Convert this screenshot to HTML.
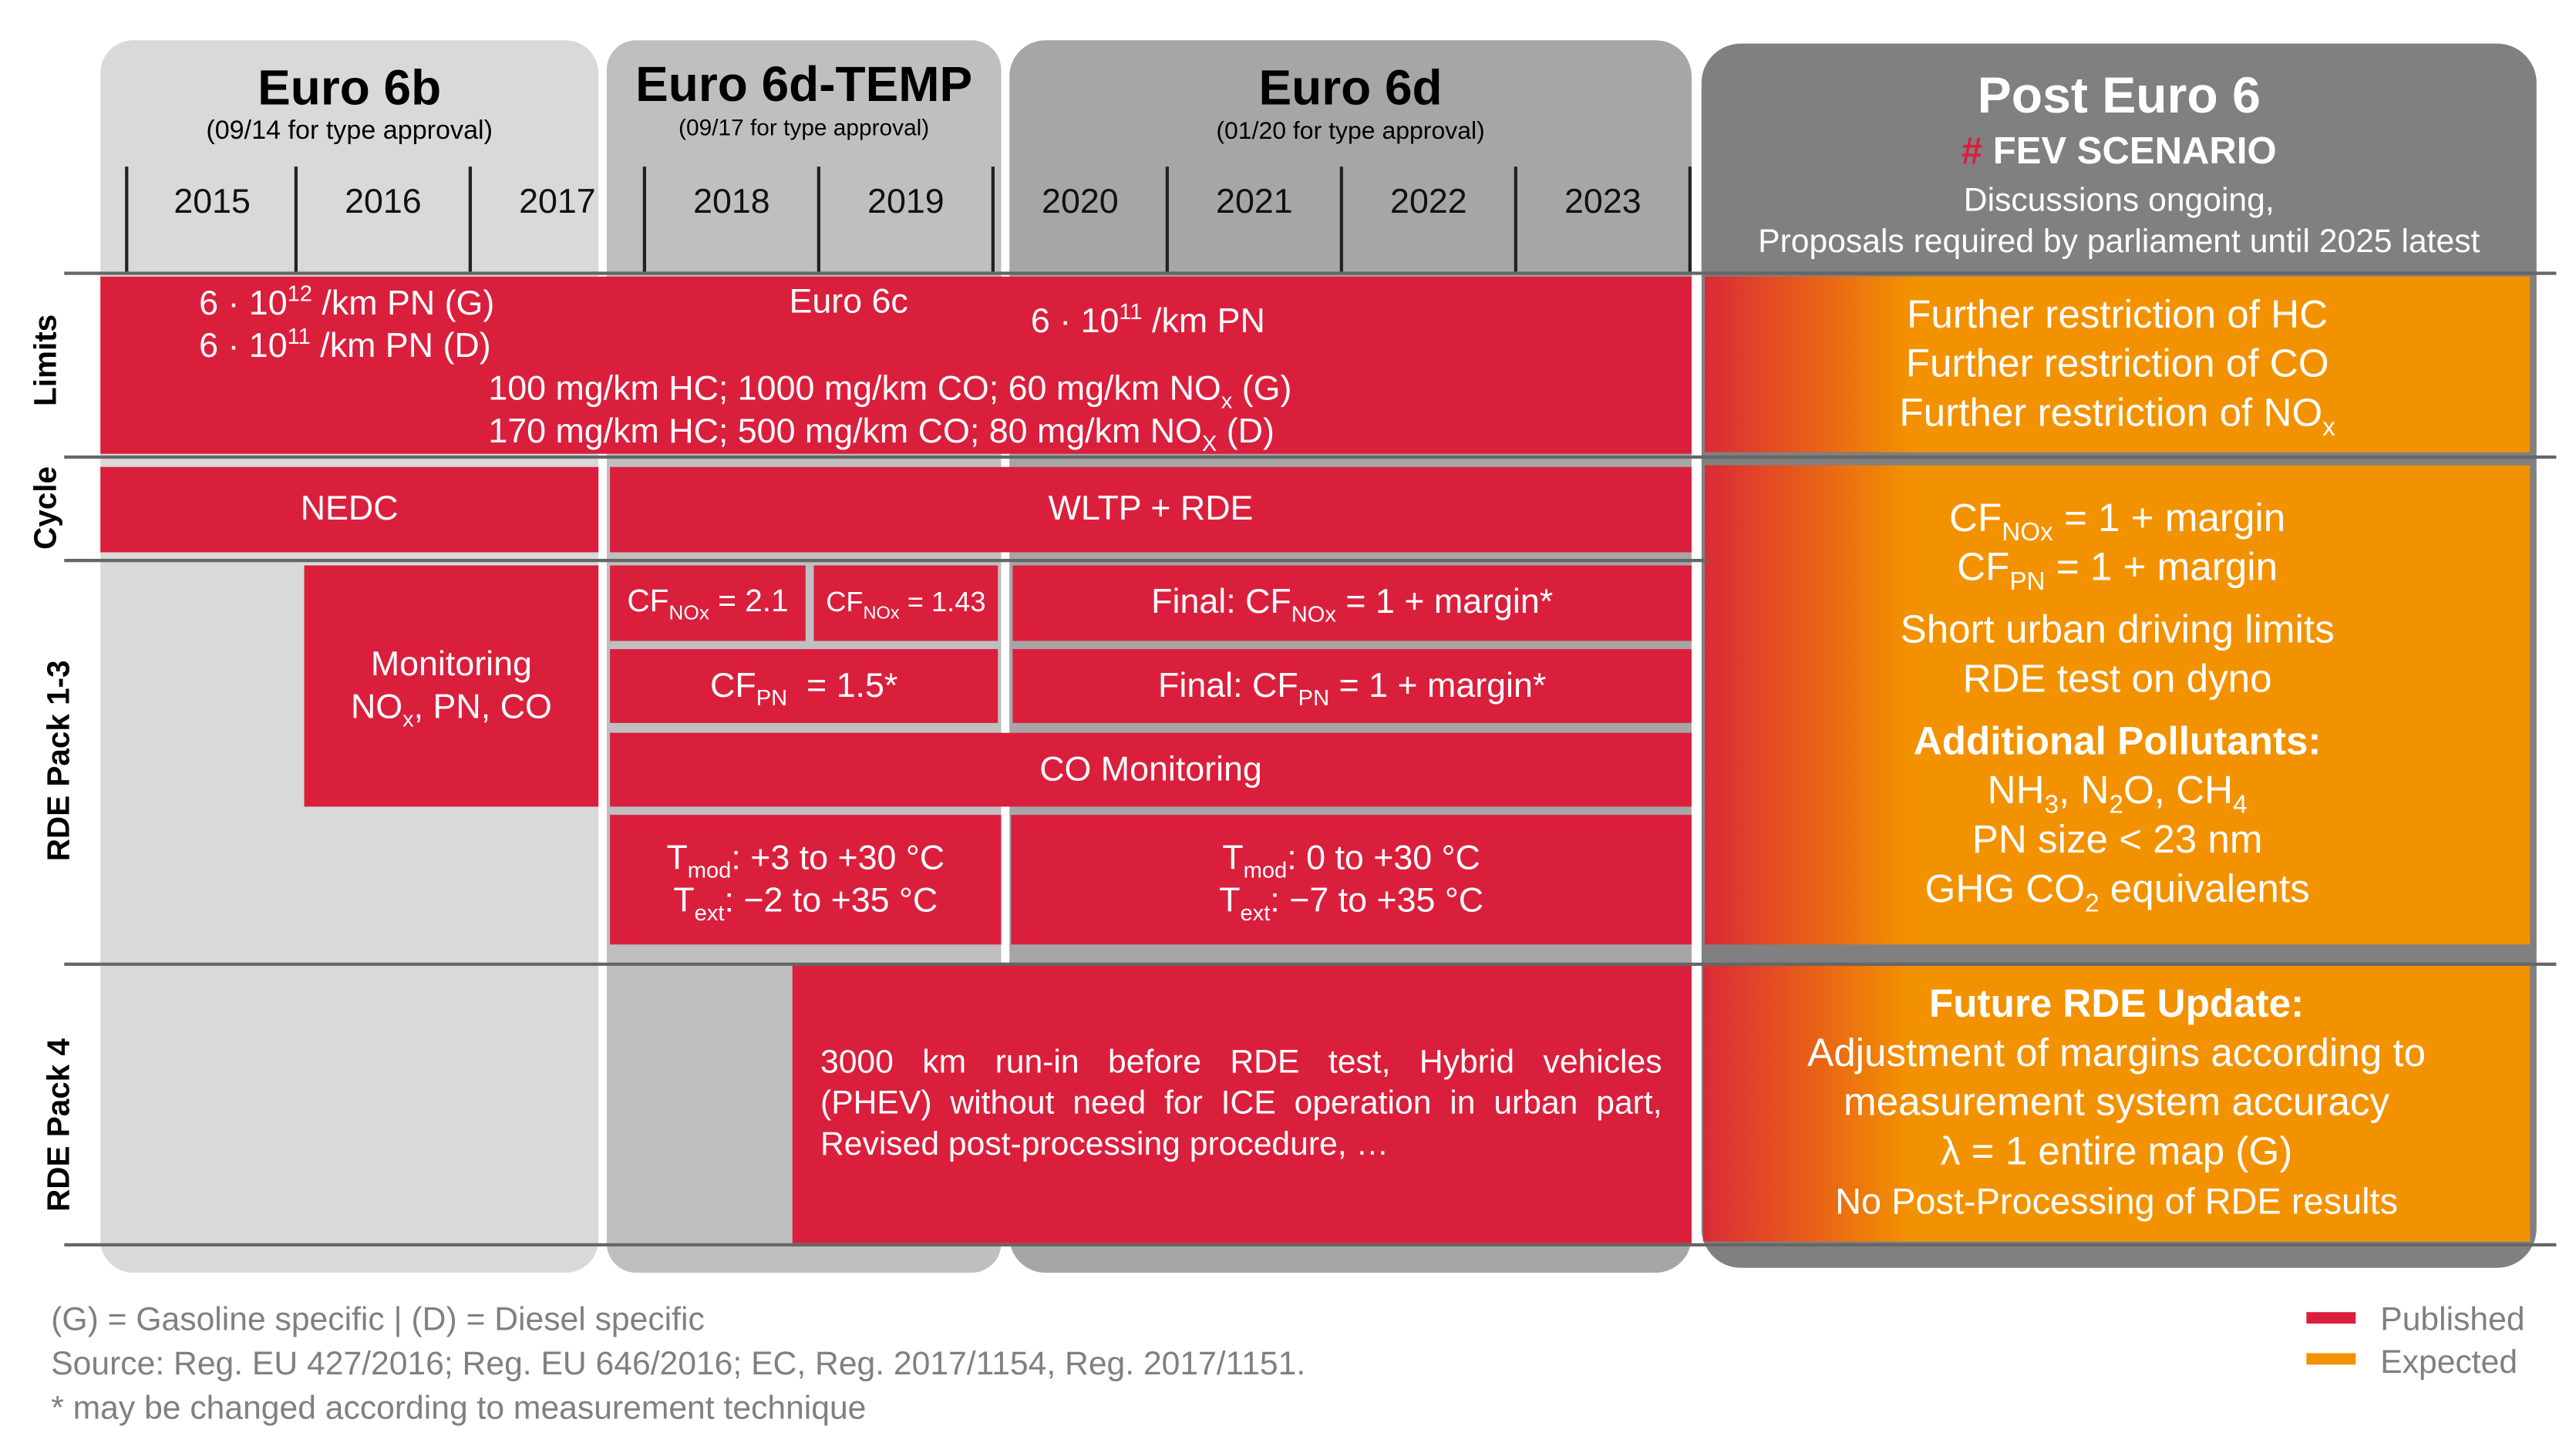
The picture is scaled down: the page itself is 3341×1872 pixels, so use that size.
<!DOCTYPE html>
<html><head><meta charset="utf-8"><style>
html,body{margin:0;padding:0;background:#fff;width:3341px;height:1872px;overflow:hidden}
#w{position:absolute;left:0;top:0;width:1560px;height:874px;transform:translate(-2px,-1px) scale(2.132,2.129);transform-origin:0 0;font-family:"Liberation Sans Narrow","Liberation Sans",sans-serif}
.a{position:absolute}
.c{position:absolute;display:flex;align-items:center;justify-content:center;text-align:center;color:#fff}
.r{background:#da1f3d}
.o{background:linear-gradient(90deg,#da2a38 0%,#e5531f 10%,#f39200 25%,#f39200 100%)}
.hl{position:absolute;height:1.5px;background:#666}
.tick{position:absolute;top:102px;width:2px;height:64px;background:#222}
.yr{position:absolute;top:112px;width:106px;text-align:center;font-size:21px;color:#111}
.rot{position:absolute;transform:rotate(-90deg);transform-origin:center;font-family:"Liberation Sans",sans-serif;font-weight:bold;font-size:19px;color:#000;white-space:nowrap;text-align:center;width:200px}
sub,sup{font-size:65%;line-height:0}
.f{font-size:21px;line-height:26px}
.g{font-size:24px;line-height:30px}
.j{text-align:justify;text-align-last:justify}
</style></head><body><div id="w">
<!-- panels -->
<div class="a" style="left:62px;top:25px;width:303px;height:751px;background:#d9d9d9;border-radius:20px"></div>
<div class="a" style="left:370px;top:25px;width:240px;height:751px;background:#bfbfbf;border-radius:18px"></div>
<div class="a" style="left:615px;top:25px;width:415px;height:751px;background:#a6a6a6;border-radius:22px"></div>
<div class="a" style="left:1036px;top:27px;width:508px;height:746px;background:#808080;border-radius:24px"></div>

<div class="c" style="left:62px;top:38px;width:303px;color:#000"><div><div style="font-size:30px;font-weight:bold">Euro 6b</div><div style="font-size:16px">(09/14 for type approval)</div></div></div>
<div class="c" style="left:370px;top:36px;width:240px;color:#000"><div><div style="font-size:30px;font-weight:bold">Euro 6d-TEMP</div><div style="font-size:14px">(09/17 for type approval)</div></div></div>
<div class="c" style="left:615px;top:38px;width:415px;color:#000"><div><div style="font-size:30px;font-weight:bold">Euro 6d</div><div style="font-size:15px">(01/20 for type approval)</div></div></div>
<div class="c" style="left:1036px;top:40px;width:508px"><div><div style="font-size:31px;font-weight:bold;line-height:38px">Post Euro 6</div><div style="font-size:23px;font-weight:bold;line-height:28px"><span style="color:#da1f3d">#</span> FEV SCENARIO</div><div style="font-size:20px;line-height:25px;margin-top:5px">Discussions ongoing,<br>Proposals required by parliament until 2025 latest</div></div></div>

<div class="tick" style="left:77px"></div><div class="tick" style="left:180px"></div><div class="tick" style="left:286px"></div><div class="tick" style="left:392px"></div><div class="tick" style="left:498px"></div><div class="tick" style="left:604px"></div><div class="tick" style="left:710px"></div><div class="tick" style="left:816px"></div><div class="tick" style="left:922px"></div><div class="tick" style="left:1028px"></div>
<div class="yr" style="left:77px">2015</div><div class="yr" style="left:181px">2016</div><div class="yr" style="left:287px">2017</div><div class="yr" style="left:393px">2018</div><div class="yr" style="left:499px">2019</div><div class="yr" style="left:605px">2020</div><div class="yr" style="left:711px">2021</div><div class="yr" style="left:817px">2022</div><div class="yr" style="left:923px">2023</div>

<!-- white dividers -->
<div class="a" style="left:366px;top:166px;width:4px;height:592px;background:#fff"></div>
<div class="a" style="left:610px;top:278px;width:4px;height:310px;background:#fff"></div>
<div class="a" style="left:1031px;top:166px;width:5px;height:592px;background:#fff"></div>

<!-- Limits -->
<div class="a r" style="left:62px;top:169px;width:968px;height:108px"></div>
<div class="a f" style="left:122px;top:173px;color:#fff">6 · 10<sup>12</sup> /km PN (G)<br>6 · 10<sup>11</sup> /km PN (D)</div>
<div class="a f" style="left:481px;top:172px;color:#fff">Euro 6c</div>
<div class="a f" style="left:628px;top:184px;color:#fff">6 · 10<sup>11</sup> /km PN</div>
<div class="a f" style="left:298px;top:225px;color:#fff">100 mg/km HC; 1000 mg/km CO; 60 mg/km NO<sub>x</sub> (G)<br>170 mg/km HC; 500 mg/km CO; 80 mg/km NO<sub>X</sub> (D)</div>
<div class="c o g" style="left:1038px;top:169px;width:502px;height:107px"><div>Further restriction of HC<br>Further restriction of CO<br>Further restriction of NO<sub>x</sub></div></div>

<!-- Cycle -->
<div class="c r f" style="left:62px;top:285px;width:303px;height:52px"><div>NEDC</div></div>
<div class="c r f" style="left:372px;top:285px;width:658px;height:52px"><div>WLTP + RDE</div></div>
<div class="c o g" style="left:1038px;top:284px;width:502px;height:292px"><div><div>CF<sub>NOx</sub> = 1 + margin<br>CF<sub>PN</sub> = 1 + margin</div><div style="margin-top:8px">Short urban driving limits<br>RDE test on dyno</div><div style="margin-top:8px"><b>Additional Pollutants:</b><br>NH<sub>3</sub>, N<sub>2</sub>O, CH<sub>4</sub><br>PN size &lt; 23 nm<br>GHG CO<sub>2</sub> equivalents</div></div></div>

<!-- RDE 1-3 -->
<div class="c r f" style="left:186px;top:345px;width:179px;height:147px"><div>Monitoring<br>NO<sub>x</sub>, PN, CO</div></div>
<div class="c r" style="left:372px;top:345px;width:119px;height:46px;font-size:19px"><div>CF<sub>NOx</sub> = 2.1</div></div>
<div class="c r" style="left:496px;top:345px;width:112px;height:46px;font-size:17px;white-space:nowrap"><div>CF<sub>NOx</sub> = 1.43</div></div>
<div class="c r f" style="left:617px;top:345px;width:413px;height:46px"><div>Final: CF<sub>NOx</sub> = 1 + margin*</div></div>
<div class="c r f" style="left:372px;top:396px;width:236px;height:45px"><div>CF<sub>PN</sub> &nbsp;= 1.5*</div></div>
<div class="c r f" style="left:617px;top:396px;width:413px;height:45px"><div>Final: CF<sub>PN</sub> = 1 + margin*</div></div>
<div class="c r f" style="left:372px;top:447px;width:658px;height:45px"><div>CO Monitoring</div></div>
<div class="c r f" style="left:372px;top:497px;width:238px;height:79px"><div>T<sub>mod</sub>: +3 to +30 °C<br>T<sub>ext</sub>: −2 to +35 °C</div></div>
<div class="c r f" style="left:616px;top:497px;width:414px;height:79px"><div>T<sub>mod</sub>: 0 to +30 °C<br>T<sub>ext</sub>: −7 to +35 °C</div></div>

<!-- RDE 4 -->
<div class="a r" style="left:483px;top:589px;width:547px;height:169px"></div>
<div class="a" style="left:500px;top:636px;width:512px;color:#fff;font-size:20px;line-height:25px"><div class="j">3000 km run-in before RDE test, Hybrid vehicles</div><div class="j">(PHEV) without need for ICE operation in urban part,</div><div>Revised post-processing procedure, …</div></div>
<div class="c o g" style="left:1037px;top:589px;width:503px;height:168px;line-height:30px"><div><b>Future RDE Update:</b><br>Adjustment of margins according to<br>measurement system accuracy<br>λ = 1 entire map (G)<br><span style="font-size:22px">No Post-Processing of RDE results</span></div></div>

<!-- horizontal lines -->
<div class="hl" style="left:40px;top:166px;width:1516px"></div>
<div class="hl" style="left:40px;top:278px;width:1516px"></div>
<div class="hl" style="left:40px;top:341px;width:1000px"></div>
<div class="hl" style="left:40px;top:587px;width:1516px"></div>
<div class="hl" style="left:40px;top:758px;width:1516px"></div>

<!-- row labels -->
<div class="rot" style="left:-70px;top:209px">Limits</div>
<div class="rot" style="left:-70px;top:299px">Cycle</div>
<div class="rot" style="left:-62px;top:453px">RDE Pack 1-3</div>
<div class="rot" style="left:-62px;top:675px">RDE Pack 4</div>

<!-- footer -->
<div class="a" style="left:32px;top:792px;color:#808080;font-size:20px;line-height:27px">(G) = Gasoline specific | (D) = Diesel specific<br>Source: Reg. EU 427/2016; Reg. EU 646/2016; EC, Reg. 2017/1154, Reg. 2017/1151.<br>* may be changed according to measurement technique</div>
<div class="a" style="left:1404px;top:800px;width:30px;height:7px;background:#da1f3d"></div>
<div class="a" style="left:1404px;top:825px;width:30px;height:7px;background:#f39200"></div>
<div class="a" style="left:1449px;top:792px;color:#808080;font-size:20px;line-height:26px">Published<br>Expected</div>
</div></body></html>
